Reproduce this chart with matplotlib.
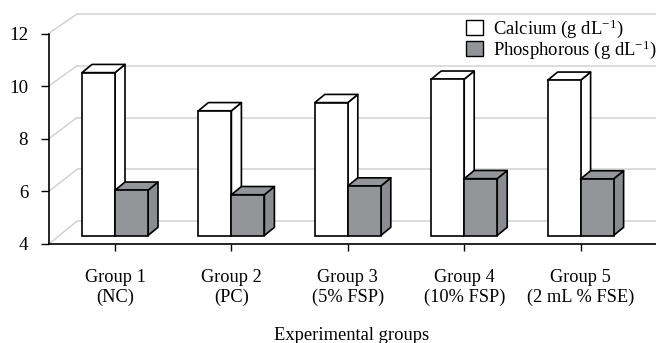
import matplotlib
matplotlib.use("Agg")
import matplotlib.pyplot as plt
from matplotlib.patches import Polygon, Patch

plt.rcParams['font.family'] = ['Liberation Serif', 'DejaVu Serif']
plt.rcParams['mathtext.fontset'] = 'custom'
plt.rcParams['mathtext.rm'] = 'Liberation Serif'
plt.rcParams['mathtext.it'] = 'Liberation Serif:italic'
plt.rcParams['mathtext.default'] = 'regular'

groups = ['Group 1\n(NC)', 'Group 2\n(PC)', 'Group 3\n(5% FSP)',
          'Group 4\n(10% FSP)', 'Group 5\n(2 mL % FSE)']
calcium = [10.19, 8.74, 9.05, 9.94, 9.90]
phosphorous = [5.72, 5.55, 5.88, 6.16, 6.15]
y_ticks = [4, 6, 8, 10, 12]
series_names = ['Calcium (g dL$^{-1}$)', 'Phosphorous (g dL$^{-1}$)']

W, H = 656, 343
fig = plt.figure(figsize=(W / 100, H / 100), dpi=100)
L, R, T, B = 49, 656, 33.5, 244
ax = fig.add_axes([L / W, 1 - B / H, (R - L) / W, (B - T) / H])

PX_X = 116.4                 # px per category
PX_Y = (B - T) / 8           # px per y unit
ax.set_xlim((L - 115) / PX_X, (R - 115) / PX_X)
ax.set_ylim(4, 12)

BAR_W = 33 / PX_X
BASE = 8.5 / PX_Y            # front floor lifted above the axis
DX, DY = 10 / PX_X, 8.2 / PX_Y
GRID_DX = 28 / PX_X
GRID_C = '#d2d2d2'
LW = 1.2

# back wall gridlines and side-wall diagonals
for v in y_ticks:
    back = v + (0.87 - (v - 4) * 0.016)
    ax.plot([ax.get_xlim()[0] + GRID_DX, ax.get_xlim()[1]], [back, back],
            color=GRID_C, lw=1.1, zorder=1, clip_on=False, solid_capstyle='butt')
    ax.plot([ax.get_xlim()[0] + 0.01, ax.get_xlim()[0] + GRID_DX], [v + 0.04, back],
            color=GRID_C, lw=1.1, zorder=1, clip_on=False)


def bar3d(x0, v, color, side, z):
    x1 = x0 + BAR_W
    base = 4 + BASE
    top = base + (v - 4)
    ax.bar(x0, top - base, BAR_W, bottom=base, align='edge', facecolor=color,
           edgecolor='black', linewidth=LW, zorder=z + 0.2)
    # top face
    ax.add_patch(Polygon([(x0, top), (x0 + DX, top + DY), (x1 + DX, top + DY), (x1, top)],
                         closed=True, facecolor=color, edgecolor='black', lw=LW,
                         joinstyle='round', zorder=z + 0.1))
    # side face
    ax.add_patch(Polygon([(x1, top), (x1 + DX, top + DY), (x1 + DX, base + DY), (x1, base)],
                         closed=True, facecolor=side, edgecolor='black', lw=LW,
                         joinstyle='round', zorder=z))


for i, (c, p) in enumerate(zip(calcium, phosphorous)):
    bar3d(i - BAR_W, c, 'white', 'white', 3 + i)
    bar3d(i, p, '#939598', '#8a8c8f', 3.5 + i)

for s in ('top', 'right'):
    ax.spines[s].set_visible(False)
for s in ('left', 'bottom'):
    ax.spines[s].set_linewidth(1.2)
    ax.spines[s].set_zorder(20)

ax.set_xticks(range(len(groups)))
ax.set_xticklabels(groups, fontsize=13.2, linespacing=1.18)
ax.set_yticks(y_ticks)
ax.set_yticklabels([str(v) for v in y_ticks], fontsize=13.6)
ax.tick_params(axis='x', length=5, width=1.0, pad=13)
ax.tick_params(axis='y', length=6, width=1.0, pad=9)
ax.set_xlabel('Experimental groups', fontsize=13.3)
ax.xaxis.set_label_coords((352 - L) / (R - L), -(340 - B) / (B - T))
ax.xaxis.label.set_verticalalignment('baseline')

handles = [Patch(facecolor='white', edgecolor='black', lw=1.0),
           Patch(facecolor='#939598', edgecolor='black', lw=1.0)]
leg = ax.legend(handles, series_names, frameon=False, fontsize=13.4,
                loc='upper left', bbox_to_anchor=((466 - L) / (R - L), 1 + (33.5 - 17) / (B - T)),
                borderpad=0, borderaxespad=0, handlelength=0.91, handleheight=0.86,
                handletextpad=0.54, labelspacing=-0.05)
leg.set_zorder(30)

fig.savefig('out.png', dpi=100)
